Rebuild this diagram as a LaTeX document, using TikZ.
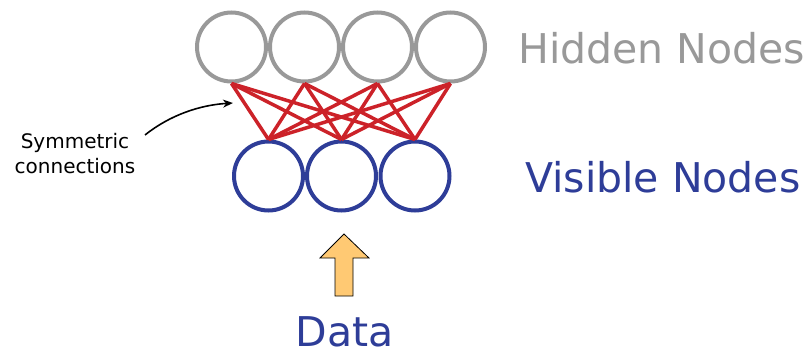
\documentclass[tikz,border=0pt]{standalone}
\usepackage{fontspec}
\setmainfont{DejaVu Sans}
\usetikzlibrary{arrows.meta}
\definecolor{hidgray}{HTML}{999999}
\definecolor{visblue}{HTML}{2E3D98}
\definecolor{conred}{HTML}{CC2229}
\definecolor{dataorange}{HTML}{FFC973}
\begin{document}
\begin{tikzpicture}[x=1pt,y=-1pt,
  hid/.style={circle,draw=hidgray,line width=4pt,minimum size=69pt,inner sep=0pt},
  vis/.style={circle,draw=visblue,line width=4pt,minimum size=69pt,inner sep=0pt},
  con/.style={draw=conred,line width=3.5pt},
  bigtext/.style={font=\fontsize{41}{46}\selectfont,inner sep=0pt,anchor=west}]
\useasboundingbox (0,0) rectangle (811,356);
\foreach \i/\x in {1/231.5,2/304.5,3/377.5,4/450.5}
  \node[hid] (h\i) at (\x,47) {};
\foreach \i/\x in {1/268.5,2/341.5,3/415}
  \node[vis] (v\i) at (\x,176) {};
\foreach \i in {1,...,4}
  \foreach \j in {1,2,3}
    \draw[con] (h\i.south) -- (v\j.north);
\node[bigtext,text=hidgray] (ht) at (518,48) {Hidden Nodes};
\node[bigtext,text=visblue] (vt) at (525,177) {Visible Nodes};
\node[font=\fontsize{41}{46}\selectfont,text=visblue,inner sep=0pt] (dt) at (344.5,332) {Data};
\node[font=\fontsize{20}{25}\selectfont,align=center,inner sep=0pt] (st) at (75,154) {Symmetric\\connections};
\coordinate (cs) at (145,135);
\coordinate (ce) at (233,103);
\draw[line width=1.6pt,-{Stealth[length=10pt,width=8pt]}] (cs) .. controls (170,115) and (200,105) .. (ce);
\draw[fill=dataorange,draw=black,line width=0.8pt]
  (344,234) -- (369,258) -- (353,258) -- (353,296) -- (335,296) -- (335,258) -- (320,258) -- cycle;
\end{tikzpicture}
\end{document}
